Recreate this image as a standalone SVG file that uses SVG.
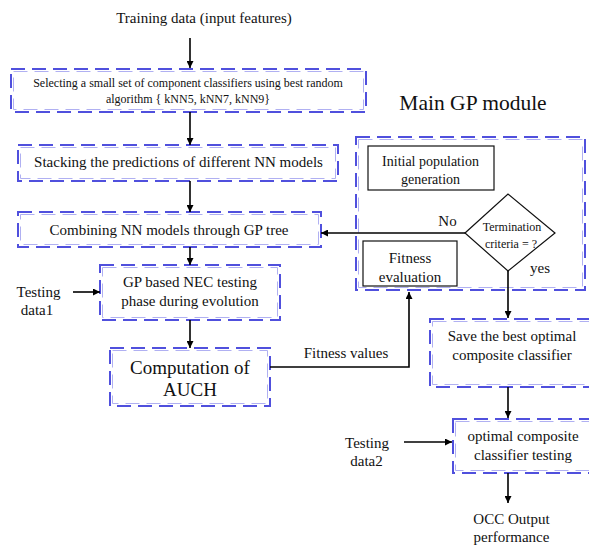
<svg xmlns="http://www.w3.org/2000/svg" width="589" height="547" viewBox="0 0 589 547">
  <style>
    text { font-family: 'Liberation Serif', 'Times New Roman', 'DejaVu Serif', serif; fill: #111; text-anchor: middle; }
    .m { font-size: 15px; }
    .s { font-size: 12px; }
    .n { font-size: 14px; }
    .l { font-size: 19px; }
    .xl { font-size: 21.5px; }
    .box { fill: none; stroke: #5050dd; stroke-width: 2; stroke-dasharray: 14 7; }
    .inner { fill: none; stroke: #b0b0f2; stroke-width: 1; stroke-dasharray: 14 7; }
    .solid { fill: #fff; stroke: #111; stroke-width: 1.2; }
    .wire { fill: none; stroke: #000; stroke-width: 1.6; }
  </style>
  <defs>
    <marker id="arr" viewBox="0 0 10 10" refX="10" refY="5" markerWidth="7" markerHeight="7" markerUnits="userSpaceOnUse" orient="auto">
      <path d="M0,0 L10,5 L0,10 z" fill="#000"/>
    </marker>
  </defs>
  <rect width="589" height="547" fill="#fff"/>

  <text class="m" x="204" y="23">Training data (input features)</text>
  <text class="xl" x="473" y="110">Main GP module</text>

  <g id="select">
    <rect class="box" x="11" y="69" width="355" height="43"/>
    <rect class="inner" x="13.5" y="71.5" width="350" height="38"/>
    <text class="s" x="188" y="87">Selecting a small set of component classifiers using best random</text>
    <text class="s" x="188" y="103">algorithm { kNN5, kNN7, kNN9}</text>
  </g>

  <g id="stack">
    <rect class="box" x="18" y="145" width="320" height="36"/>
    <rect class="inner" x="20.5" y="147.5" width="315" height="31"/>
    <text class="m" x="178.5" y="167">Stacking the predictions of different NN models</text>
  </g>

  <g id="combine">
    <rect class="box" x="18" y="212" width="303" height="35"/>
    <rect class="inner" x="20.5" y="214.5" width="298" height="30"/>
    <text class="m" x="169" y="235">Combining NN models through GP tree</text>
  </g>

  <g id="nec">
    <rect class="box" x="100" y="265" width="180" height="55"/>
    <rect class="inner" x="102.5" y="267.5" width="175" height="50"/>
    <text class="m" x="190" y="287">GP based NEC testing</text>
    <text class="m" x="190" y="306">phase during evolution</text>
  </g>

  <g id="testing1">
    <text class="m" x="38.5" y="297">Testing</text>
    <text class="m" x="37" y="315">data1</text>
  </g>

  <g id="auch">
    <rect class="box" x="110" y="348" width="160" height="58"/>
    <rect class="inner" x="112.5" y="350.5" width="155" height="53"/>
    <text class="l" x="190" y="374">Computation  of</text>
    <text class="l" x="190" y="396">AUCH</text>
  </g>

  <g id="gp-module">
    <rect class="box" x="356" y="137" width="229" height="153"/>
    <rect class="inner" x="358.5" y="139.5" width="224" height="148"/>
  </g>

  <g id="init-pop">
    <rect class="solid" x="368" y="146" width="126" height="44"/>
    <text class="n" x="430.5" y="166">Initial population</text>
    <text class="n" x="430.5" y="184">generation</text>
  </g>

  <g id="termination">
    <polygon class="solid" points="465,233 508,194 555,233 508,271"/>
    <text class="s" x="512" y="231">Termination</text>
    <text class="s" x="511" y="248">criteria = ?</text>
  </g>

  <g id="fitness-eval">
    <rect class="solid" x="363" y="241" width="94" height="45"/>
    <text class="m" x="410" y="263">Fitness</text>
    <text class="m" x="410" y="282">evaluation</text>
  </g>

  <g id="save-best">
    <rect class="box" x="430" y="319" width="165" height="68"/>
    <rect class="inner" x="432.5" y="321.5" width="160" height="63"/>
    <text class="m" x="512" y="341">Save the best optimal</text>
    <text class="m" x="512" y="360">composite classifier</text>
  </g>

  <g id="occ-testing">
    <rect class="box" x="453" y="419" width="142" height="54"/>
    <rect class="inner" x="455.5" y="421.5" width="137" height="49"/>
    <text class="m" x="523" y="441">optimal composite</text>
    <text class="m" x="523" y="460">classifier testing</text>
  </g>

  <g id="testing2">
    <text class="m" x="367" y="448">Testing</text>
    <text class="m" x="366.5" y="466">data2</text>
  </g>

  <g id="output">
    <text class="m" x="511.5" y="524">OCC Output</text>
    <text class="m" x="511.5" y="542">performance</text>
  </g>

  <g id="connectors">
    <line class="wire" x1="190" y1="38" x2="190" y2="68" marker-end="url(#arr)"/>
    <line class="wire" x1="190" y1="112" x2="190" y2="145" marker-end="url(#arr)"/>
    <line class="wire" x1="190" y1="181" x2="190" y2="212" marker-end="url(#arr)"/>
    <line class="wire" x1="190" y1="247" x2="190" y2="265" marker-end="url(#arr)"/>
    <line class="wire" x1="73" y1="292" x2="100" y2="292" marker-end="url(#arr)"/>
    <line class="wire" x1="190" y1="320" x2="190" y2="348" marker-end="url(#arr)"/>
    <polyline class="wire" points="270,367 409,367 409,292" marker-end="url(#arr)"/>
    <text class="m" x="346" y="358">Fitness values</text>
    <line class="wire" x1="465" y1="233" x2="321" y2="233" marker-end="url(#arr)"/>
    <text class="m" x="447.5" y="226">No</text>
    <line class="wire" x1="508" y1="271" x2="508" y2="318" marker-end="url(#arr)"/>
    <text class="m" x="540" y="273">yes</text>
    <line class="wire" x1="508" y1="387" x2="508" y2="418" marker-end="url(#arr)"/>
    <line class="wire" x1="404" y1="442" x2="452" y2="442" marker-end="url(#arr)"/>
    <line class="wire" x1="508" y1="473" x2="508" y2="503" marker-end="url(#arr)"/>
  </g>
</svg>
